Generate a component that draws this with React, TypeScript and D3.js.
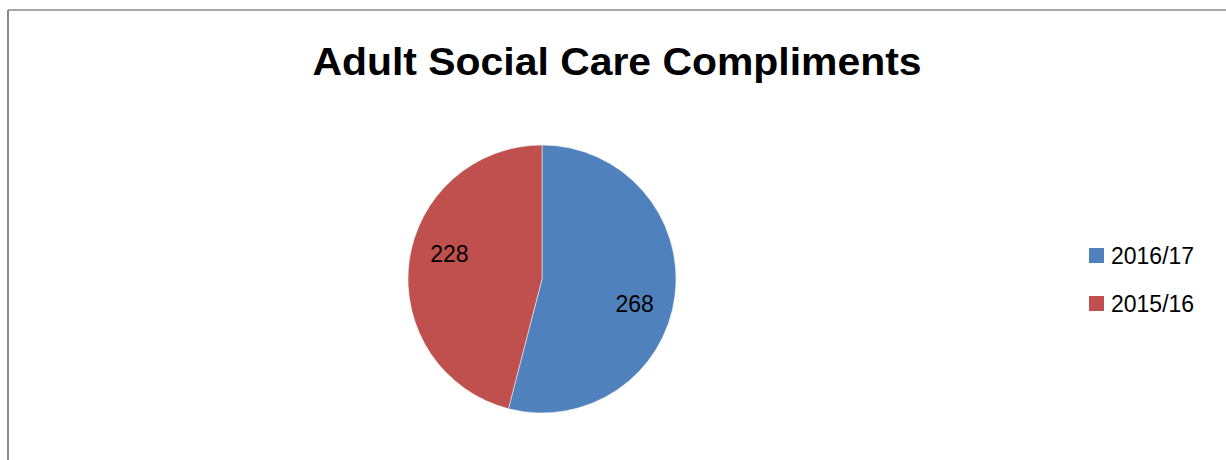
import React from "react";
import * as d3 from "d3";

const categories = ["2016/17", "2015/16"];
const values = [268, 228];
const colors = ["#4F81BD", "#C0504D"];
const title = "Adult Social Care Compliments";

const W = 1226;
const H = 460;

export default function App() {
  const cx = 542;
  const cy = 279;
  const r = 134;
  const pie = d3
    .pie<number>()
    .sort(null)
    .value((d) => d)
    .startAngle(0)
    .endAngle(2 * Math.PI);
  const arcs = pie(values);
  const arc = d3.arc<d3.PieArcDatum<number>>().innerRadius(0).outerRadius(r);
  const labelR = 96;
  const shift = (8 * Math.PI) / 180;

  return (
    <svg
      width={W}
      height={H}
      style={{ position: "fixed", left: 0, top: 0, background: "#fff" }}
      fontFamily="'Liberation Sans', Arial, sans-serif"
    >
      <rect x={0} y={0} width={W} height={H} fill="#fff" />
      <line x1={8} y1={10} x2={W} y2={10} stroke="#8a8a8a" strokeWidth={1.5} />
      <line x1={8} y1={10} x2={8} y2={H} stroke="#8a8a8a" strokeWidth={2} />
      <text
        x={617}
        y={75}
        textAnchor="middle"
        fontSize={38}
        fontWeight="bold"
        fill="#000"
        textLength={609}
        lengthAdjust="spacingAndGlyphs"
      >
        {title}
      </text>
      <g transform={`translate(${cx},${cy})`}>
        {arcs.map((a, i) => (
          <path key={categories[i]} d={arc(a) || ""} fill={colors[i]} stroke="#fff" strokeWidth={0.5} />
        ))}
        {arcs.map((a, i) => {
          const mid = (a.startAngle + a.endAngle) / 2 + shift;
          const x = Math.sin(mid) * labelR;
          const y = -Math.cos(mid) * labelR;
          return (
            <text key={"l" + i} x={x} y={y} dy="0.35em" textAnchor="middle" fontSize={23} fill="#000">
              {values[i]}
            </text>
          );
        })}
      </g>
      <g>
        {categories.map((c, i) => (
          <g key={c} transform={`translate(1089,${248 + i * 48})`}>
            <rect x={0} y={0} width={15} height={15} fill={colors[i]} />
            <text x={22} y={7.5} dy="0.35em" fontSize={23} fill="#000">
              {c}
            </text>
          </g>
        ))}
      </g>
    </svg>
  );
}
